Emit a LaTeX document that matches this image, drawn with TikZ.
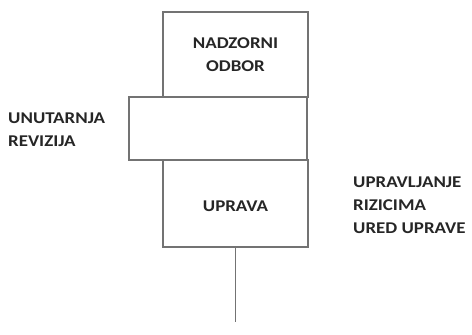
\documentclass[tikz,border=0pt]{standalone}
\usepackage{fontspec}
\setmainfont{Carlito}[FakeStretch=1.15]
\begin{document}
\begin{tikzpicture}[x=1bp,y=-1bp,
  box/.style={draw=black!55,line width=1.3bp,minimum width=145bp,inner sep=0pt,font=\bfseries\fontsize{16.5}{23}\selectfont,text=black!85,align=center},
  lbl/.style={inner sep=0pt,font=\bfseries\fontsize{16.5}{23}\selectfont,text=black!85,align=left,anchor=base west}]
\useasboundingbox (0,0) rectangle (472,334);
\node[box,minimum width=178bp,minimum height=63bp] (rev) at (218,128.5) {};
\node[box,minimum height=85bp,fill=white] (nad) at (235.5,54.5) {NADZORNI\\ODBOR};
\node[box,minimum height=87bp,fill=white,text depth=0pt,text height=11pt] (upr) at (235.5,203.5) {\raisebox{-3bp}{UPRAVA}};
\coordinate (end) at (235.5,322);
\draw[black!55,line width=1.3bp] (upr.south) -- (end);
\node[lbl] (t1) at (8,146.5) {UNUTARNJA\\REVIZIJA};
\node[lbl] (t2) at (353,233.5) {UPRAVLJANJE\\RIZICIMA\\URED UPRAVE};
\end{tikzpicture}
\end{document}
